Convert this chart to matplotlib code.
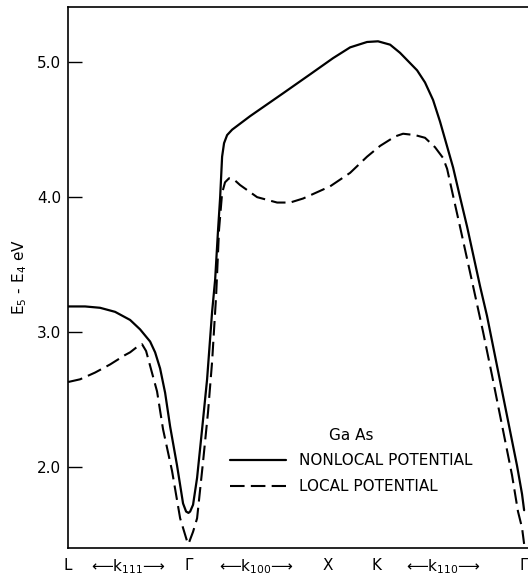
import matplotlib
matplotlib.use("Agg")
import matplotlib.pyplot as plt

plt.rcParams['font.family'] = ['DejaVu Sans']
plt.rcParams['mathtext.fontset'] = 'dejavusans'

# symmetry points along the path (units of 2*pi/a)
sym_pos = [0.0, 0.866, 1.866, 2.220, 3.281]

# Nonlocal potential (solid)
k_nonlocal = [0.000, 0.122, 0.230, 0.338, 0.446, 0.518, 0.590, 0.626, 0.662, 0.698,
              0.734, 0.784, 0.827, 0.849, 0.866, 0.878, 0.899, 0.928, 0.964, 1.000,
              1.036, 1.058, 1.079, 1.094, 1.108, 1.122, 1.144, 1.180, 1.309, 1.547,
              1.741, 1.906, 2.029, 2.151, 2.230, 2.317, 2.388, 2.511, 2.568, 2.626,
              2.676, 2.712, 2.770, 2.820, 2.871, 2.964, 3.014, 3.086, 3.158, 3.230,
              3.266, 3.281]
e_nonlocal = [3.19, 3.19, 3.18, 3.15, 3.09, 3.02, 2.93, 2.85, 2.73, 2.55,
              2.30, 2.01, 1.73, 1.67, 1.66, 1.67, 1.72, 1.92, 2.28, 2.65,
              3.15, 3.39, 3.76, 4.00, 4.30, 4.40, 4.46, 4.50, 4.60, 4.77,
              4.91, 5.03, 5.11, 5.15, 5.155, 5.13, 5.07, 4.94, 4.85, 4.72,
              4.56, 4.43, 4.22, 4.00, 3.78, 3.34, 3.12, 2.75, 2.38, 2.01,
              1.80, 1.68]

# Local potential (dashed)
k_local = [0.000, 0.086, 0.194, 0.302, 0.410, 0.446, 0.496, 0.532, 0.561, 0.590,
           0.640, 0.683, 0.748, 0.806, 0.856, 0.866, 0.899, 0.928, 0.971, 1.007,
           1.036, 1.065, 1.086, 1.108, 1.129, 1.158, 1.194, 1.237, 1.360, 1.504,
           1.597, 1.691, 1.885, 2.029, 2.151, 2.245, 2.353, 2.410, 2.496, 2.568,
           2.640, 2.698, 2.727, 2.770, 2.820, 2.914, 2.986, 3.050, 3.122, 3.194,
           3.237, 3.266, 3.281]
e_local = [2.63, 2.65, 2.70, 2.76, 2.83, 2.85, 2.89, 2.91, 2.86, 2.75,
           2.56, 2.28, 1.97, 1.62, 1.45, 1.43, 1.52, 1.62, 2.04, 2.41,
           2.78, 3.27, 3.76, 4.03, 4.11, 4.14, 4.13, 4.09, 4.00, 3.96,
           3.96, 3.99, 4.08, 4.18, 4.30, 4.38, 4.45, 4.47, 4.46, 4.44,
           4.37, 4.29, 4.21, 4.01, 3.78, 3.34, 3.00, 2.68, 2.31, 1.94,
           1.67, 1.55, 1.43]

xtick_pos = [0.0, 0.432, 0.866, 1.353, 1.866, 2.220, 2.698, 3.281]
xtick_labels = ['L', '⟵k$_{111}$⟶', 'Γ', '⟵k$_{100}$⟶', 'X', 'K', '⟵k$_{110}$⟶', 'Γ']
ytick_pos = [2.0, 3.0, 4.0, 5.0]
ytick_labels = ['2.0', '3.0', '4.0', '5.0']

fig = plt.figure(figsize=(5.28, 5.75), dpi=100)
ax = fig.add_axes([0.129, 0.047, 0.871, 0.941])

ax.plot(k_nonlocal, e_nonlocal, color='black', lw=1.6, solid_capstyle='round',
        solid_joinstyle='round', label='NONLOCAL POTENTIAL')
ax.plot(k_local, e_local, color='black', lw=1.5, dashes=(7, 3),
        label='LOCAL POTENTIAL')

ax.set_xlim(0, 3.309)
ax.set_ylim(1.40, 5.41)

ax.spines['right'].set_visible(False)
for s in ['left', 'bottom', 'top']:
    ax.spines[s].set_linewidth(1.2)

ax.set_yticks(ytick_pos)
ax.set_yticklabels(ytick_labels, fontsize=11)
ax.tick_params(axis='y', direction='in', length=10, width=1.0, pad=5)

ax.set_xticks(xtick_pos)
ax.set_xticklabels(xtick_labels, fontsize=11)
ax.tick_params(axis='x', which='major', length=0, pad=7)
ax.set_xticks([sym_pos[2], sym_pos[3]], minor=True)
ax.tick_params(axis='x', which='minor', direction='in', length=9, width=1.0)

ax.set_ylabel('E$_5$ - E$_4$ eV', fontsize=11)
ax.yaxis.set_label_coords(-0.085, 0.5)

leg = ax.legend(loc='center', bbox_to_anchor=(0.615, 0.161), frameon=False,
                fontsize=11, title='Ga As', title_fontsize=11,
                handlelength=3.7, handletextpad=0.8, labelspacing=0.7)

fig.savefig('out.png', dpi=100)
